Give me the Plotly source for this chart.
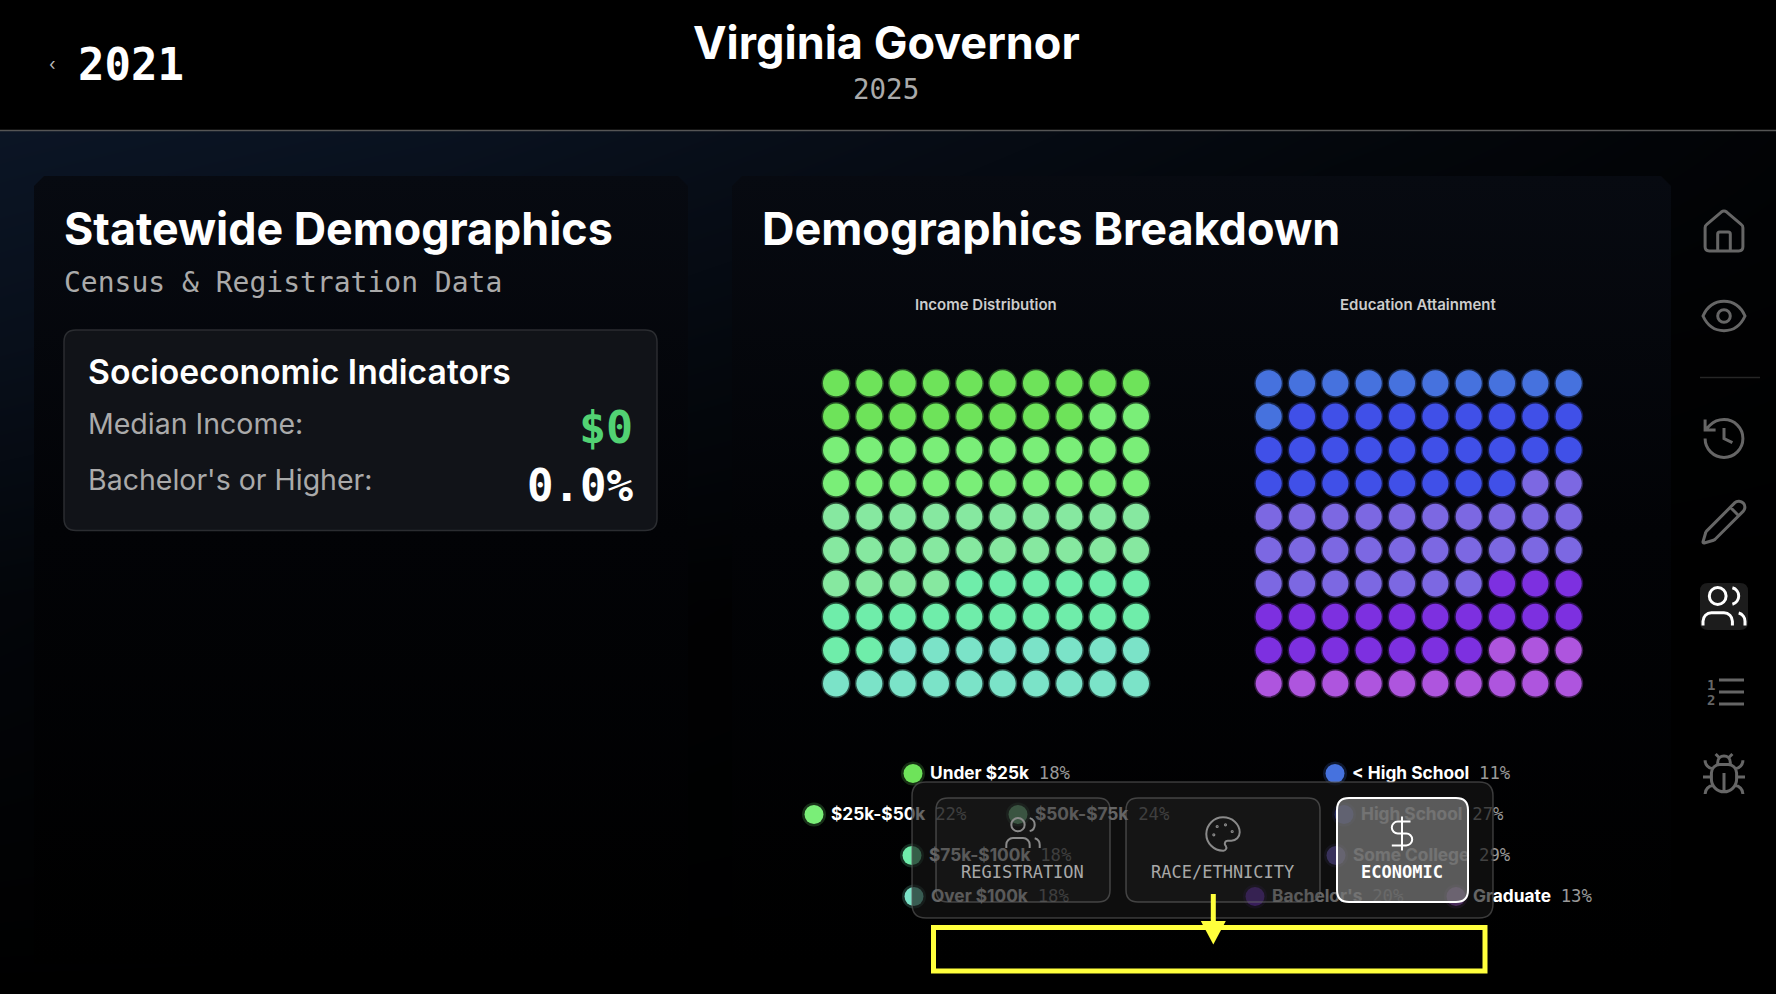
import re
import numpy as np
import plotly.graph_objects as go

W, H = 1776, 994

income_labels = ["Under $25k", "$25k-$50k", "$50k-$75k", "$75k-$100k", "Over $100k"]
income_pct = [18, 22, 24, 18, 18]
income_colors = ["#6ee35a", "#7aee78", "#86e8a0", "#6fedaa", "#7be3c8"]

education_labels = ["< High School", "High School", "Some College", "Bachelor's", "Graduate"]
education_pct = [11, 27, 29, 20, 13]
education_colors = ["#4672de", "#4050e8", "#7c68e2", "#7d30e0", "#ae55de"]

# legend dot positions (px), text starts 17px right of them
income_dot_x = [913, 814, 1018, 912, 914]
income_dot_y = [773.5, 814.5, 814.5, 855.5, 896.5]
education_dot_x = [1335, 1344, 1336, 1255, 1456]
education_dot_y = [773.5, 814.5, 855.5, 896.5, 896.5]

MONO = "DejaVu Sans Mono"
SANS = "Inter"
ICON = "#666666"


def rounded(x0, y0, x1, y1, r):
    return (f"M{x0+r},{y0} L{x1-r},{y0} Q{x1},{y0} {x1},{y0+r} L{x1},{y1-r} Q{x1},{y1} {x1-r},{y1} "
            f"L{x0+r},{y1} Q{x0},{y1} {x0},{y1-r} L{x0},{y0+r} Q{x0},{y0} {x0+r},{y0} Z")


def ring(cx, cy, r):
    k = 0.5523 * r
    return (f"M{cx-r} {cy} C{cx-r} {cy-k} {cx-k} {cy-r} {cx} {cy-r} C{cx+k} {cy-r} {cx+r} {cy-k} {cx+r} {cy} "
            f"C{cx+r} {cy+k} {cx+k} {cy+r} {cx} {cy+r} C{cx-k} {cy+r} {cx-r} {cy+k} {cx-r} {cy} Z")


# icons drawn on a 24x24 box, only absolute M L C Q Z
icon_paths = {
    "home": "M15 21 L15 13 Q15 12 14 12 L10 12 Q9 12 9 13 L9 21 "
            "M3 10 Q3 9 3.7 8.5 L10.7 2.5 Q12 1.5 13.3 2.5 L20.3 8.5 Q21 9 21 10 L21 19 Q21 21 19 21 L5 21 Q3 21 3 19 Z",
    "eye": "M2 12 C4.5 6.5 8 5 12 5 C16 5 19.5 6.5 22 12 C19.5 17.5 16 19 12 19 C8 19 4.5 17.5 2 12 Z " + ring(12, 12, 3),
    "history": "M3 12 C3 17 7 21 12 21 C17 21 21 17 21 12 C21 7 17 3 12 3 C9.5 3 7 4 5.3 5.7 L3 8 "
               "M3 3 L3 8 L8 8 M12 7 L12 12 L16 14",
    "pencil": "M21.2 6.8 C22.2 5.8 22.2 4 21.2 3 C20.2 2 18.2 1.8 17.2 2.8 L3.8 16.2 Q3.4 16.6 3.3 17 L2 21.4 "
              "Q1.9 22.1 2.6 22 L7 20.7 Q7.4 20.5 7.8 20.2 Z M15 5 L19 9",
    "users": "M16 21 L16 19 C16 16.8 14.2 15 12 15 L6 15 C3.8 15 2 16.8 2 19 L2 21 " + ring(9, 7, 4) +
             " M22 21 L22 19 C22 17.2 20.8 15.6 19 15.1 M16 3.1 C17.8 3.6 19 5.2 19 7 C19 8.8 17.8 10.4 16 10.9",
    "bug": "M8 2 L9.9 3.9 M14.1 3.9 L16 2 M9 7.1 L9 6 C9 4.3 10.3 3 12 3 C13.7 3 15 4.3 15 6 L15 7.1 "
           "M12 20 C8.7 20 6 17.3 6 14 L6 11 C6 8.8 7.8 7 10 7 L14 7 C16.2 7 18 8.8 18 11 L18 14 C18 17.3 15.3 20 12 20 "
           "M12 20 L12 11 M6.5 9 C4.6 8.8 3 7.1 3 5 M6 13 L2 13 M3 21 C3 18.9 4.7 17.1 6.8 17 "
           "M21 5 C21 7.1 19.4 8.8 17.5 9 M22 13 L18 13 M17.2 17 C19.3 17.1 21 18.9 21 21",
    "palette": "M12 22 C6.5 22 2 17.5 2 12 C2 6.5 6.5 2 12 2 C17.5 2 22 6 22 11 C22 13.8 19.8 16 17 16 L14.8 16 "
               "C13.4 16 12.6 17.6 13.4 18.8 L13.7 19.2 C14.5 20.4 13.6 22 12.3 22 Z "
               + " ".join(ring(a, b, 0.35) for a, b in [(13.5, 6.5), (17.5, 10.5), (6.5, 12.5), (8.5, 7.5)]),
    "dollar": "M12 2 L12 22 M17 5 L9.5 5 C7.6 5 6 6.6 6 8.5 C6 10.4 7.6 12 9.5 12 L14.5 12 "
              "C16.4 12 18 13.6 18 15.5 C18 17.4 16.4 19 14.5 19 L6 19",
}


def icon(name, cx, cy, scale, color=ICON, width=3):
    toks = re.findall(r"[MLCQZ]|-?[\d.]+", icon_paths[name])
    out, is_x = [], True
    for t in toks:
        if t in "MLCQZ":
            out.append(t)
            is_x = True
        else:
            v = float(t) - 12
            out.append(f"{cx + v*scale:.2f}" if is_x else f"{cy + v*scale:.2f}")
            is_x = not is_x
    return dict(type="path", path=" ".join(out), xref="x", yref="y", layer="above",
                line=dict(color=color, width=width))


def box(x0, y0, x1, y1, r, fill, line, width=1.5):
    return dict(type="path", path=rounded(x0, y0, x1, y1, r), xref="x", yref="y", layer="above",
                fillcolor=fill, line=dict(color=line, width=width))


def label(x, y, text, size, color, weight=400, family=SANS, anchor="left"):
    return dict(x=x, y=y, xref="x", yref="y", text=text, showarrow=False, xanchor=anchor, yanchor="middle",
                font=dict(family=family, size=size, color=color, weight=weight))


fig = go.Figure()

# page background, navy glow top left going to black
fig.add_trace(go.Heatmap(
    x=[0, 444, 888, 1332, 1776], y=[130, 350, 600, 994],
    z=[[1.0, 0.85, 0.6, 0.35, 0.15], [0.7, 0.5, 0.3, 0.1, 0.05], [0.25, 0.1, 0.05, 0, 0], [0, 0, 0, 0, 0]],
    zmin=0, zmax=1, zsmooth="best", showscale=False, hoverinfo="skip",
    colorscale=[[0, "#000000"], [1, "#0b1525"]],
))

# black header band over the background
fig.add_trace(go.Scatter(x=[0, W, W, 0, 0], y=[0, 0, 130, 130, 0], mode="lines", line=dict(width=0),
                         fill="toself", fillcolor="#000000", hoverinfo="skip"))

# the two panels
for x0, x1 in [(34, 688), (732, 1671)]:
    r = 10
    fig.add_trace(go.Scatter(
        x=[x0 + r, x1 - r, x1, x1, x0, x0, x0 + r], y=[176, 176, 176 + r, 964, 964, 176 + r, 176],
        mode="lines", line=dict(width=0), fill="toself", hoverinfo="skip",
        fillgradient=dict(type="vertical", colorscale=[[0, "#000000"], [0.55, "#020306"], [1, "#070a11"]]),
    ))


def waffle(pct, colors, xa, ya):
    cat = np.repeat(np.arange(len(pct)), pct)
    idx = np.arange(len(cat))
    for c, col in enumerate(colors):
        sel = idx[cat == c]
        for size, op in [(29, 0.33), (26, 1)]:
            fig.add_trace(go.Scatter(x=sel % 10, y=sel // 10, mode="markers", xaxis=xa, yaxis=ya, hoverinfo="skip",
                                     marker=dict(size=size, color=col, opacity=op, line=dict(width=0))))


waffle(income_pct, income_colors, "x2", "y2")
waffle(education_pct, education_colors, "x3", "y3")


def legend(labels, pct, colors, dot_x, dot_y):
    for i, name in enumerate(labels):
        for size, op in [(24, 0.2), (19, 1)]:
            fig.add_trace(go.Scatter(x=[dot_x[i]], y=[dot_y[i]], mode="markers", hoverinfo="skip",
                                     marker=dict(size=size, color=colors[i], opacity=op, line=dict(width=0))))
        txt = (f"<b>{name}</b>\u00a0\u00a0<span style=\"font-family:'{MONO}';color:#999999\">{pct[i]}%</span>")
        fig.add_trace(go.Scatter(x=[dot_x[i] + 17], y=[dot_y[i] + 1], mode="text", text=[txt], textposition="middle right",
                                 hoverinfo="skip", textfont=dict(family=SANS, size=17.3, color="#ffffff")))


legend(income_labels, income_pct, income_colors, income_dot_x, income_dot_y)
legend(education_labels, education_pct, education_colors, education_dot_x, education_dot_y)

shapes = [
    dict(type="line", x0=0, x1=W, y0=130.5, y1=130.5, xref="x", yref="y", layer="above", line=dict(color="#555555", width=1.5)),
    box(64, 330, 657, 530.5, 12, "#111318", "#2b2d31"),
    # tab switcher floating over the legends
    box(912, 782, 1493, 918, 14, "rgba(22,22,22,0.66)", "rgba(95,95,95,0.6)"),
    box(936, 798, 1110, 902, 12, "rgba(50,50,50,0.2)", "rgba(110,110,110,0.55)"),
    box(1126, 798, 1320, 902, 12, "rgba(50,50,50,0.2)", "rgba(110,110,110,0.55)"),
    box(1337, 798, 1468, 902, 12, "rgba(120,120,120,0.72)", "#ffffff", 2),
    icon("users", 1023, 833, 1.67, "#8a8a8a", 2),
    icon("palette", 1223, 834, 1.67, "#8a8a8a", 2),
    icon("dollar", 1402, 833.5, 1.7, "#ffffff", 2),
    # yellow callout
    dict(type="rect", x0=933.5, x1=1485, y0=927.5, y1=971, xref="x", yref="y", layer="above", line=dict(color="#ffff3c", width=5)),
    dict(type="line", x0=1213.3, x1=1213.3, y0=894, y1=923, xref="x", yref="y", layer="above", line=dict(color="#ffff3c", width=5)),
    dict(type="path", path="M1200.8,921 L1225.8,921 L1213.3,944.5 Z", xref="x", yref="y", layer="above", fillcolor="#ffff3c", line=dict(width=0)),
    # sidebar
    dict(type="line", x0=1700, x1=1760, y0=377.5, y1=377.5, xref="x", yref="y", layer="above", line=dict(color="#262626", width=1.5)),
    box(1700, 583, 1748, 630, 8, "#1c1c1c", "#1c1c1c", 0),
    icon("home", 1724, 232, 2.1),
    icon("eye", 1724, 316, 2.1),
    icon("history", 1724, 438.5, 2.1),
    icon("pencil", 1724, 522, 2.1),
    icon("users", 1724, 606.5, 2.1, "#ffffff"),
    icon("bug", 1724, 775, 2.1),
]
for y in [680, 692, 704]:
    shapes.append(dict(type="line", x0=1719, x1=1744, y0=y, y1=y, xref="x", yref="y", layer="above", line=dict(color=ICON, width=3)))

annotations = [
    label(52, 63.5, "‹", 17, "#bbbbbb", anchor="center"),
    label(76, 64, "2021", 44, "#ffffff", 700, MONO),
    label(886, 42, "Virginia Governor", 45, "#ffffff", 700, anchor="center"),
    label(886, 89, "2025", 27.5, "#aaaaaa", 400, MONO, "center"),
    label(61.5, 229, "Statewide Demographics", 44.8, "#ffffff", 700),
    label(61.5, 282, "Census & Registration Data", 28, "#aaaaaa", 400, MONO),
    label(760, 228, "Demographics Breakdown", 45, "#ffffff", 700),
    label(985.5, 304, "Income Distribution", 15, "#cccccc", 600, anchor="center"),
    label(1418, 304, "Education Attainment", 15, "#cccccc", 600, anchor="center"),
    label(85.5, 371, "Socioeconomic Indicators", 33.7, "#ffffff", 600),
    label(85.5, 423, "Median Income:", 28.5, "#aaaaaa"),
    label(85.5, 479, "Bachelor's or Higher:", 28.5, "#aaaaaa"),
    label(634.5, 427, "$0", 45, "#52d273", 700, MONO, "right"),
    label(635, 485, "0.0%", 44, "#ffffff", 700, MONO, "right"),
    label(1022.5, 872, "REGISTRATION", 17, "#a8a8a8", 400, MONO, "center"),
    label(1222.5, 872, "RACE/ETHNICITY", 17, "#a8a8a8", 400, MONO, "center"),
    label(1402, 872, "ECONOMIC", 17, "#ffffff", 700, MONO, "center"),
    label(1711, 685, "1", 14, ICON, 700, MONO, "center"),
    label(1711, 700, "2", 14, ICON, 700, MONO, "center"),
]


def dom_x(a, b):
    return [a / W, b / W]


def dom_y(a, b):
    return [1 - b / H, 1 - a / H]


hidden = dict(visible=False, showgrid=False, zeroline=False, fixedrange=True)
pitch = 100 / 3
waffle_top, waffle_bottom = 383.2, 683.6
layout_axes = dict(
    xaxis=dict(range=[0, W], domain=[0, 1], **hidden),
    yaxis=dict(range=[H, 0], domain=[0, 1], **hidden),
    xaxis2=dict(range=[-0.5, 9.5], domain=dom_x(836 - pitch / 2, 1136 + pitch / 2), anchor="y2", **hidden),
    yaxis2=dict(range=[9.5, -0.5], domain=dom_y(waffle_top - pitch / 2, waffle_bottom + pitch / 2), anchor="x2", **hidden),
    xaxis3=dict(range=[-0.5, 9.5], domain=dom_x(1268.7 - pitch / 2, 1568.7 + pitch / 2), anchor="y3", **hidden),
    yaxis3=dict(range=[9.5, -0.5], domain=dom_y(waffle_top - pitch / 2, waffle_bottom + pitch / 2), anchor="x3", **hidden),
)

fig.update_layout(
    width=W, height=H, margin=dict(l=0, r=0, t=0, b=0), showlegend=False,
    paper_bgcolor="#000000", plot_bgcolor="rgba(0,0,0,0)",
    shapes=shapes, annotations=annotations, **layout_axes,
)

# drop the page's default body margin so the figure fills the window
fig.write_html("out.html", config=dict(displayModeBar=False),
               post_script="document.body.style.margin='0';document.body.style.background='#000';")
